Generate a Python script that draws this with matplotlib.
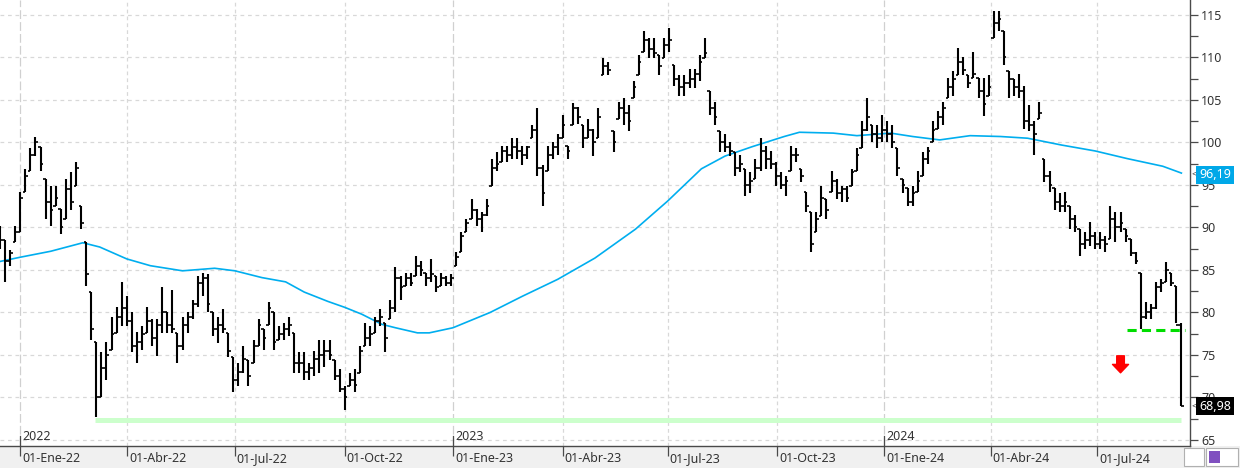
import matplotlib
matplotlib.use('Agg')
import matplotlib.pyplot as plt
import numpy as np
from matplotlib.transforms import blended_transform_factory
from matplotlib.patches import Rectangle
from matplotlib.ticker import MultipleLocator, FixedLocator, NullFormatter

plt.rcParams['font.family'] = ['Noto Sans', 'DejaVu Sans']

# ---------------- data ----------------
bar_step = 3  # trading days represented per bar

highs = [
    90.2, 88.5, 87.4, 90.2, 94.2, 96.9, 99.3, 100.7, 99.5, 95.7,
    94.9, 94.9, 92.2, 95.7, 96.5, 97.7, 92.5, 88.3, 82.4, 76.5,
    75.3, 76.5, 79.5, 80.7, 83.6, 81.9, 80.0, 77.7, 78.4, 80.7,
    79.2, 79.2, 83.0, 80.0, 82.7, 77.6, 79.5, 80.0, 81.5, 84.3,
    84.7, 84.5, 80.0, 79.5, 80.4, 77.6, 74.8, 74.1, 76.0, 74.4,
    76.8, 79.2, 78.0, 81.2, 80.0, 78.4, 78.8, 79.5, 77.6, 75.3,
    75.3, 74.1, 75.5, 76.8, 76.8, 76.8, 74.4, 73.3, 71.3, 72.9,
    73.3, 76.0, 78.8, 78.4, 79.5, 80.4, 78.8, 81.5, 85.4, 84.3,
    84.7, 84.7, 86.6, 86.0, 84.7, 86.3, 84.3, 84.7, 84.3, 84.5,
    87.1, 89.5, 91.0, 93.4, 92.2, 91.8, 93.4, 98.1, 98.9, 99.6,
    99.6, 100.5, 100.5, 99.6, 99.6, 102.0, 104.0, 97.3, 99.6, 100.1,
    101.0, 103.2, 99.6, 104.6, 104.2, 102.0, 102.8, 101.6, 104.0, 109.9,
    109.5, 101.3, 104.8, 105.2, 104.4, 107.2, 110.3, 113.1, 112.3, 112.3,
    110.3, 112.3, 113.5, 109.1, 107.9, 107.9, 108.7, 108.7, 110.3, 112.3,
    106.0, 104.8, 101.3, 101.0, 100.1, 98.9, 98.5, 96.9, 96.5, 98.1,
    100.5, 99.6, 99.0, 97.7, 96.5, 96.1, 99.6, 99.3, 96.9, 94.2,
    91.8, 91.8, 94.9, 93.4, 96.6, 95.7, 94.9, 94.9, 96.9, 99.3,
    102.5, 105.2, 102.0, 102.0, 103.2, 102.5, 102.0, 99.3, 95.7, 94.6,
    94.9, 96.6, 98.9, 99.5, 102.5, 103.7, 104.8, 107.6, 108.4, 111.1,
    110.0, 107.9, 110.7, 107.6, 107.6, 107.9, 115.5, 115.5, 113.1, 108.4,
    107.5, 108.0, 106.7, 104.4, 102.5, 104.8, 98.1, 96.6, 94.6, 94.0,
    94.2, 92.5, 91.5, 89.8, 89.5, 90.6, 89.5, 89.5, 89.0, 92.5,
    91.8, 91.8, 89.8, 88.6, 87.1, 84.7, 81.2, 81.0, 83.6, 83.9,
    85.9, 84.7, 83.1, 78.8,
]

lows = [
    87.5, 83.6, 85.5, 88.3, 89.5, 94.2, 96.6, 98.4, 96.6, 91.0,
    90.2, 92.5, 89.2, 91.0, 92.0, 94.9, 89.8, 83.1, 76.8, 67.7,
    70.0, 72.1, 75.6, 77.6, 78.4, 78.4, 75.3, 74.0, 75.6, 77.6,
    76.0, 74.9, 77.6, 77.6, 77.6, 74.0, 75.6, 77.6, 79.2, 80.7,
    81.9, 80.1, 77.2, 76.4, 77.6, 74.8, 70.6, 71.3, 72.9, 71.3,
    74.0, 76.0, 75.6, 78.5, 75.6, 76.8, 76.8, 77.2, 72.9, 72.9,
    72.1, 72.1, 72.5, 72.9, 73.6, 74.4, 72.1, 70.6, 68.5, 71.3,
    70.6, 72.9, 76.0, 76.0, 77.6, 78.4, 75.3, 79.2, 80.0, 81.5,
    83.1, 83.1, 84.3, 84.3, 83.1, 83.6, 82.4, 83.1, 83.1, 83.1,
    85.5, 87.1, 89.5, 91.0, 90.2, 89.5, 91.4, 94.9, 96.6, 97.7,
    97.7, 98.1, 98.1, 97.3, 98.1, 100.5, 96.0, 92.5, 96.6, 98.1,
    98.5, 100.5, 98.1, 102.0, 102.2, 99.3, 100.5, 98.4, 100.5, 107.9,
    107.9, 98.9, 102.8, 102.0, 101.3, 105.2, 107.9, 110.7, 109.9, 109.9,
    107.9, 109.9, 110.7, 106.7, 105.5, 105.5, 106.4, 106.4, 107.2, 109.9,
    103.2, 102.0, 98.9, 98.9, 98.4, 96.1, 96.5, 93.7, 94.0, 95.7,
    96.6, 96.9, 96.9, 94.9, 94.5, 93.7, 96.6, 97.7, 95.4, 91.8,
    87.1, 89.5, 91.4, 91.0, 94.2, 93.4, 93.0, 93.0, 94.9, 96.6,
    99.3, 101.3, 100.1, 99.3, 100.1, 100.0, 99.3, 96.1, 94.0, 92.5,
    92.5, 94.2, 96.1, 97.5, 100.0, 101.6, 102.0, 105.2, 105.5, 107.9,
    107.9, 106.4, 107.6, 105.2, 103.1, 105.5, 112.3, 113.1, 109.1, 105.2,
    105.5, 105.2, 101.6, 101.3, 98.5, 102.8, 95.4, 94.2, 92.0, 91.8,
    91.8, 89.8, 89.5, 86.6, 87.5, 87.8, 87.5, 87.5, 87.1, 88.6,
    88.3, 89.5, 88.3, 86.6, 85.7, 78.0, 79.2, 79.2, 80.4, 82.4,
    83.6, 83.1, 78.8, 68.98,
]

closes = [
    88.5, 86.0, 87.0, 89.5, 93.5, 96.0, 98.5, 100.0, 97.5, 93.0,
    92.0, 93.5, 90.0, 94.5, 93.0, 97.0, 90.5, 84.5, 78.0, 70.0,
    73.5, 75.0, 77.5, 79.5, 80.5, 79.0, 76.0, 76.5, 77.5, 79.0,
    77.0, 78.5, 80.0, 78.5, 78.0, 76.0, 78.5, 79.5, 81.0, 83.5,
    84.0, 81.0, 78.0, 78.5, 78.0, 75.5, 72.0, 73.0, 74.5, 72.5,
    76.0, 78.5, 77.0, 80.5, 76.5, 77.5, 78.0, 78.5, 74.0, 74.0,
    73.0, 73.5, 74.5, 75.0, 75.5, 75.0, 72.5, 71.0, 70.0, 72.0,
    71.5, 75.5, 77.0, 77.5, 79.0, 79.5, 77.0, 80.5, 84.0, 83.0,
    84.0, 83.5, 85.5, 85.0, 84.0, 84.5, 83.0, 84.0, 83.5, 84.0,
    86.5, 89.0, 90.5, 92.0, 91.0, 91.5, 92.5, 97.0, 97.5, 99.0,
    98.5, 99.5, 99.0, 98.5, 99.5, 101.5, 97.0, 94.0, 98.5, 99.5,
    100.5, 102.0, 99.0, 104.0, 103.0, 100.5, 101.5, 100.0, 103.0, 109.0,
    108.5, 100.0, 104.0, 103.5, 102.5, 106.5, 109.5, 112.0, 111.0, 110.5,
    109.0, 111.5, 112.0, 107.5, 106.5, 107.0, 107.5, 108.0, 109.5, 110.5,
    104.0, 103.0, 100.0, 99.5, 99.0, 97.0, 97.5, 95.0, 95.5, 97.0,
    99.0, 98.0, 97.5, 96.0, 95.0, 95.5, 98.5, 98.5, 96.0, 92.5,
    88.0, 91.0, 93.5, 92.0, 95.5, 94.0, 94.5, 93.5, 96.5, 98.5,
    101.5, 103.0, 101.0, 100.5, 101.5, 101.0, 100.0, 97.0, 95.0, 93.0,
    94.0, 95.5, 98.0, 99.0, 101.5, 103.0, 104.0, 106.5, 107.5, 109.5,
    108.5, 107.0, 108.0, 106.0, 104.5, 106.5, 114.0, 114.5, 110.0, 107.5,
    106.5, 106.0, 102.5, 102.0, 101.0, 103.5, 96.0, 95.0, 93.0, 92.5,
    93.0, 91.0, 90.0, 88.0, 88.5, 89.0, 88.0, 88.5, 88.0, 91.0,
    90.0, 90.5, 89.0, 87.0, 86.0, 79.5, 80.0, 80.5, 83.0, 83.5,
    85.0, 83.5, 78.5, 68.98,
]

# 200-session moving average (trading-day index, value)
ma_idx = [0, 12, 30, 49, 59, 75, 89, 108, 127, 139, 155, 169, 180, 194, 204,
          214, 226, 234, 247, 254, 268, 290, 309, 330, 352, 376, 395, 415,
          429, 445, 464, 473, 493, 507, 527, 540, 556, 574, 592, 608, 628,
          648, 667, 688, 699]
ma_val = [86.0, 86.5, 87.2, 88.2, 87.7, 86.3, 85.5, 84.9, 85.2, 84.9, 84.1,
          83.6, 82.4, 81.3, 80.6, 79.8, 78.6, 78.2, 77.6, 77.6, 78.2, 80.0,
          81.9, 83.9, 86.4, 89.8, 93.1, 96.9, 98.4, 99.5, 100.7, 101.2,
          101.1, 100.8, 101.1, 100.7, 100.3, 100.8, 100.7, 100.5, 99.7,
          99.0, 98.1, 97.2, 96.4]

tick_idx = [11.8, 75.4, 138.9, 204.0, 268.2, 333.0, 395.0, 459.8, 523.3, 586.2, 649.0]
tick_labels = ['01-Ene-22', '01-Abr-22', '01-Jul-22', '01-Oct-22', '01-Ene-23',
               '01-Abr-23', '01-Jul-23', '01-Oct-23', '01-Ene-24', '01-Abr-24',
               '01-Jul-24']
year_idx = [11.8, 268.2, 523.3]
year_labels = ['2022', '2023', '2024']

support_level = 67.4
support_start = 56
neckline_level = 77.95
neckline_start = 667
arrow_idx = 663
last_price = 68.98
ma_last = 96.19

# ---------------- figure ----------------
W, H = 1240, 468
fig = plt.figure(figsize=(W / 100, H / 100), dpi=100)
fig.patch.set_facecolor('white')
fig.add_artist(Rectangle((0, 0), 1, 22 / H, transform=fig.transFigure,
                         facecolor='#F0F0F0', edgecolor='none', zorder=0))

ax = fig.add_axes([0, 22 / H, 1190 / W, 446 / H])
ax.set_facecolor('white')
ax.set_xlim(0, 704.1)
ax.set_ylim(64.29, 116.76)

for s in ['left', 'top']:
    ax.spines[s].set_visible(False)
for s in ['right', 'bottom']:
    ax.spines[s].set_color('#4a4a4a')
    ax.spines[s].set_linewidth(1.0)

# grid
for v in range(65, 116, 5):
    ax.axhline(v, color='#D8D8D8', lw=0.9, ls=(0, (3, 3)), zorder=0)
for i in tick_idx:
    if i in year_idx:
        ax.axvline(i, color='#D0D0D0', lw=0.9, ls=(0, (7, 2.5)), zorder=0)
    else:
        ax.axvline(i, color='#D8D8D8', lw=0.9, ls=(0, (3, 2.5)), zorder=0)

# y axis on right
ax.yaxis.tick_right()
ax.yaxis.set_major_locator(FixedLocator(list(range(65, 116, 5))))
ax.yaxis.set_minor_locator(MultipleLocator(2.5))
ax.tick_params(axis='y', which='both', direction='out', length=6, width=0.9,
               color='#4a4a4a', labelsize=9, labelcolor='#333333', pad=2)

# x axis ticks (drawn manually)
ax.xaxis.set_major_locator(FixedLocator(tick_idx))
ax.xaxis.set_major_formatter(NullFormatter())
ax.tick_params(axis='x', which='major', direction='out', length=7, width=0.9,
               color='#4a4a4a')
trans_x = blended_transform_factory(ax.transData, ax.transAxes)
for i, lab in zip(tick_idx, tick_labels):
    ax.text(i + 1.2, -0.028, lab, transform=trans_x, ha='left', va='center',
            fontsize=9, color='#333333', clip_on=False)
for i, lab in zip(year_idx, year_labels):
    ax.plot([i, i], [0, 0.022], transform=trans_x, color='#4a4a4a', lw=0.9,
            zorder=3)
    ax.text(i + 1.2, 0.022, lab, transform=trans_x, ha='left', va='center',
            fontsize=9, color='#333333')

# support band
n = len(highs)
xs = np.arange(n) * bar_step
ax.hlines(support_level, support_start, xs[-1], color='#CCFFCC', lw=3.6, zorder=1)

# moving average
ax.plot(ma_idx, ma_val, color='#00AEEF', lw=1.2, zorder=2)

# OHLC bars
hi = np.array(highs)
lo = np.array(lows)
cl = np.array(closes)
op = np.clip(np.concatenate([[cl[0]], cl[:-1]]), lo, hi)
ax.vlines(xs, lo, hi, color='black', lw=1.5, zorder=3)
ax.hlines(cl, xs, xs + 1.5, color='black', lw=1.2, zorder=3)
ax.hlines(op, xs - 1.5, xs, color='black', lw=1.2, zorder=3)

# neckline
ax.hlines(neckline_level, neckline_start, xs[-1] + 2, colors='#00DD00', lw=2.2,
          linestyles=(0, (3, 1.7)), zorder=4)

# red arrow
ax.annotate('', xy=(arrow_idx, 72.9), xytext=(arrow_idx, 74.9),
            arrowprops=dict(arrowstyle='simple,head_length=0.55,head_width=1.05,tail_width=0.5',
                            color='#FF0000', shrinkA=0, shrinkB=0, mutation_scale=11),
            zorder=5)

# right-side value labels
trans_y = blended_transform_factory(ax.transAxes, ax.transData)
ax.text(1.0076, ma_last, f'{ma_last:.2f}'.replace('.', ','), transform=trans_y,
        ha='left', va='center', color='white', fontsize=9, clip_on=False, zorder=6,
        bbox=dict(boxstyle='square,pad=0.22', fc='#00A8E8', ec='none'))
ax.text(1.0076, last_price, f'{last_price:.2f}'.replace('.', ','), transform=trans_y,
        ha='left', va='center', color='white', fontsize=9, clip_on=False, zorder=6,
        bbox=dict(boxstyle='square,pad=0.22', fc='black', ec='none'))
for v in (ma_last, last_price):
    ax.text(1.0015, v, '<', transform=trans_y, ha='left', va='center',
            fontsize=7, color='#444444', clip_on=False)

# small toolbar boxes bottom right
fig.add_artist(Rectangle((1184 / W, 2 / H), 20 / W, 18 / H, transform=fig.transFigure,
                         facecolor='white', edgecolor='#B0B0B0', lw=0.8))
fig.add_artist(Rectangle((1206 / W, 2 / H), 32 / W, 18 / H, transform=fig.transFigure,
                         facecolor='white', edgecolor='#B0B0B0', lw=0.8))
fig.add_artist(Rectangle((1209 / W, 5 / H), 11 / W, 12 / H, transform=fig.transFigure,
                         facecolor='#8050C0', edgecolor='none'))

fig.savefig('out.png', dpi=100)
